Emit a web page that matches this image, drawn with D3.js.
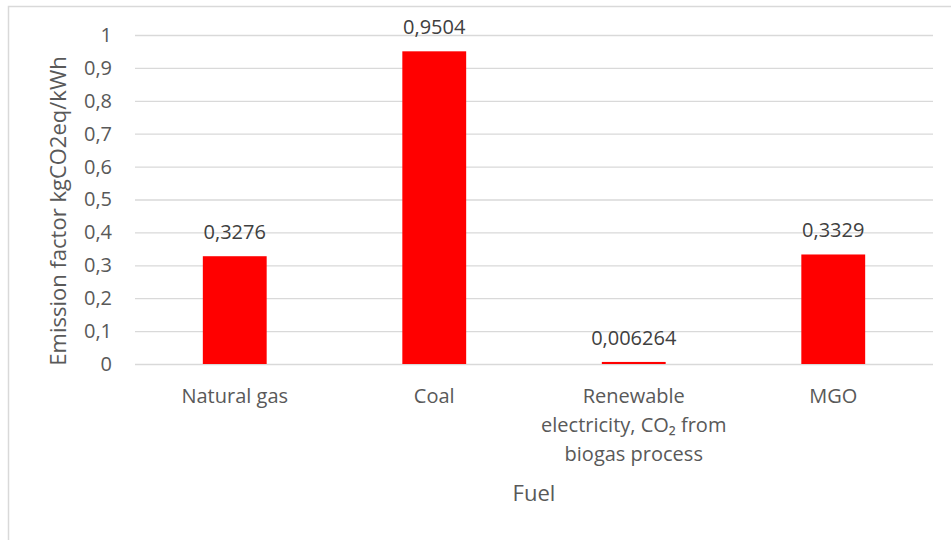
<!DOCTYPE html>
<meta charset="utf-8">
<style>
body { margin: 0; background: #fff; }
text { font-family: "Open Sans", sans-serif; }
</style>
<svg></svg>
<script src="https://d3js.org/d3.v7.min.js"></script>
<script>

// data
var fuels = ["Natural gas", "Coal", "Renewable electricity, CO\u2082 from biogas process", "MGO"];
var fuelLines = [["Natural gas"], ["Coal"], ["Renewable", "electricity, CO\u2082 from", "biogas process"], ["MGO"]];
var factors = [0.3276, 0.9504, 0.006264, 0.3329];
var valueLabels = ["0,3276", "0,9504", "0,006264", "0,3329"];
var yTicks = [0, 0.1, 0.2, 0.3, 0.4, 0.5, 0.6, 0.7, 0.8, 0.9, 1];

var width = 951, height = 540;
var svg = d3.select("svg").attr("width", width).attr("height", height);

var margin = {left: 135, right: 18, top: 35, bottom: 176};

// chart frame (Excel chart area border)
svg.append("rect")
  .attr("x", 8.5).attr("y", 6.5)
  .attr("width", 960).attr("height", 600)
  .attr("fill", "none")
  .attr("stroke", "#d9d9d9")
  .attr("stroke-width", 1.5);

var x = d3.scaleBand()
  .domain(fuels)
  .range([margin.left, width - margin.right])
  .paddingInner(0.68)
  .paddingOuter(0.34);

var y = d3.scaleLinear()
  .domain([0, 1])
  .range([height - margin.bottom, margin.top]);

// gridlines
var grid = svg.append("g")
  .attr("transform", "translate(" + margin.left + ",0)")
  .call(d3.axisLeft(y).tickValues(yTicks).tickSize(-(width - margin.right - margin.left)).tickFormat(""));
grid.select(".domain").remove();
grid.selectAll("line").attr("stroke", "#d9d9d9").attr("stroke-width", 1.3);

// y tick labels
var yAxis = svg.append("g")
  .attr("transform", "translate(" + (margin.left - 20) + ",0)")
  .call(d3.axisLeft(y).tickValues(yTicks).tickSize(0)
    .tickFormat(function(d) { return d3.format("")(d).replace(".", ","); }));
yAxis.select(".domain").remove();
yAxis.selectAll("text")
  .attr("fill", "#595959")
  .style("font-size", "20px")
  .style("font-family", "Open Sans, sans-serif");

// bars
svg.append("g")
  .selectAll("rect")
  .data(fuels)
  .enter().append("rect")
    .attr("x", function(d) { return x(d); })
    .attr("width", x.bandwidth())
    .attr("y", function(d, i) { return y(factors[i]); })
    .attr("height", function(d, i) { return y(0) - y(factors[i]); })
    .attr("fill", "#ff0000");

// data labels
svg.append("g")
  .selectAll("text")
  .data(fuels)
  .enter().append("text")
    .attr("x", function(d) { return x(d) + x.bandwidth() / 2; })
    .attr("y", function(d, i) { return y(factors[i]) - 17; })
    .attr("text-anchor", "middle")
    .attr("fill", "#404040")
    .style("font-size", "20px")
    .text(function(d, i) { return valueLabels[i]; });

// category labels
var cat = svg.append("g")
  .selectAll("text")
  .data(fuels)
  .enter().append("text")
    .attr("text-anchor", "middle")
    .attr("fill", "#595959")
    .style("font-size", "20px")
    .attr("x", function(d) { return x(d) + x.bandwidth() / 2; })
    .attr("y", 403);
cat.selectAll("tspan")
  .data(function(d, i) { return fuelLines[i]; })
  .enter().append("tspan")
    .attr("x", function() { return d3.select(this.parentNode).attr("x"); })
    .attr("dy", function(d, i) { return i === 0 ? 0 : 29; })
    .text(function(d) { return d; });

// axis titles
svg.append("text")
  .attr("x", (margin.left + width - margin.right) / 2)
  .attr("y", 501)
  .attr("text-anchor", "middle")
  .attr("fill", "#595959")
  .style("font-size", "22px")
  .text("Fuel");

svg.append("text")
  .attr("transform", "translate(66,211) rotate(-90)")
  .attr("text-anchor", "middle")
  .attr("fill", "#595959")
  .style("font-size", "22px")
  .text("Emission factor kgCO2eq/kWh");

</script>
